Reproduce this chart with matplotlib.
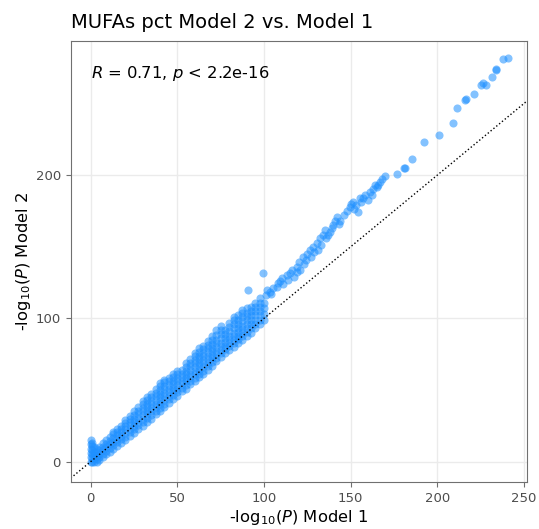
import matplotlib
matplotlib.use("Agg")
import matplotlib.pyplot as plt

# -log10(P) values, split by stretch of the cloud
# dense low end, x 0-35
low_x = [0] * 6 + [1] * 6 + [2] * 5 + [3.5] * 5 + [5] * 5 + [7] * 5 + [9] * 5 \
    + [11] * 5 + [13] * 6 + [15] * 6 + [17.5] * 6 + [20] * 7 + [22.5] * 7 \
    + [25] * 7 + [27.5] * 7 + [30] * 8 + [32.5] * 8
low_y = [0, 3, 6, 9, 12, 15,
         0, 2.5, 5, 8, 11, 13,
         0, 2, 4.5, 7, 10,
         0, 2, 4, 6.5, 9,
         1, 3.5, 5.5, 8, 10.5,
         3, 5.5, 8, 10.5, 13,
         5, 7.5, 10, 12.5, 15,
         7, 9.5, 12, 14.5, 17,
         9, 11.5, 14, 16.5, 19, 21,
         11, 13.5, 16, 18.5, 21, 23,
         13, 15.5, 18, 20.5, 23, 25,
         15, 17.5, 20, 22.5, 25, 27, 29,
         18, 20.5, 23, 25.5, 28, 30, 32,
         20, 22.5, 25, 27.5, 30, 32.5, 35,
         23, 25.5, 28, 30.5, 33, 35.5, 38,
         25, 27.5, 30, 32.5, 35, 37.5, 40, 42,
         28, 30.5, 33, 35.5, 38, 40.5, 43, 45]

# dense middle, x 35-70
mid_x = [35] * 8 + [37.5] * 8 + [40] * 9 + [42.5] * 9 + [45] * 8 + [47.5] * 8 \
    + [50] * 8 + [52.5] * 7 + [55] * 8 + [57.5] * 8 + [60] * 9 + [62.5] * 9 \
    + [65] * 9 + [67.5] * 9
mid_y = [30, 32.5, 35, 37.5, 40, 42.5, 45, 47.5,
         33, 35.5, 38, 40.5, 43, 45.5, 48, 50.5,
         35, 37.5, 40, 42.5, 45, 47.5, 50, 52.5, 55,
         38, 40.5, 43, 45.5, 48, 50.5, 53, 55.5, 57,
         41, 43.5, 46, 48.5, 51, 53.5, 56, 58.5,
         44, 46.5, 49, 51.5, 54, 56.5, 59, 61,
         46, 48.5, 51, 53.5, 56, 58.5, 61, 63,
         49, 51.5, 54, 56.5, 59, 61.5, 64,
         51, 53.5, 56, 58.5, 61, 63.5, 66, 68.5,
         54, 56.5, 59, 61.5, 64, 66.5, 69, 71.5,
         56, 58.5, 61, 63.5, 66, 68.5, 71, 73.5, 76,
         59, 61.5, 64, 66.5, 69, 71.5, 74, 76.5, 79,
         61, 63.5, 66, 68.5, 71, 73.5, 76, 78.5, 81,
         64, 66.5, 69, 71.5, 74, 76.5, 79, 81.5, 84]

# dense upper part, x 70-100
up_x = [70] * 9 + [72.5] * 9 + [75] * 9 + [77.5] * 7 + [80] * 8 + [82.5] * 9 \
    + [85] * 8 + [87.5] * 9 + [90] * 8 + [92.5] * 7 + [95] * 7 + [97.5] * 7 \
    + [100] * 4
up_y = [67, 69.5, 72, 74.5, 77, 79.5, 82, 85, 88,
        70, 72.5, 75, 77.5, 80, 82.5, 85, 88.5, 92,
        73, 75.5, 78, 80.5, 83, 86, 89, 92, 95,
        76, 78.5, 81, 83.5, 86, 89, 92,
        78, 80.5, 83, 85.5, 88, 91, 94, 97,
        80, 82.5, 85, 87.5, 90, 93, 96, 99, 101,
        83, 85.5, 88, 90.5, 93, 96, 99, 102,
        85, 87.5, 90, 92.5, 95, 98, 101, 104, 106,
        88, 90.5, 93, 96, 99, 101.5, 104, 107,
        90, 93, 96, 99, 102, 105, 108,
        93, 96, 99, 102, 105, 108, 111,
        96, 99, 102, 105, 108, 111, 114,
        99, 103, 107, 111]

# broken strand, x 100-170
strand_x = [90.9, 99.6, 101, 102, 103.5, 105, 107.3, 108, 110.2, 111, 113, 115,
            116, 117, 118.9, 120, 121, 122.7, 124, 125, 126.5, 127, 128.5, 130.4,
            131, 132.3, 134, 135.2, 136, 138, 139, 140, 141, 142, 144, 146, 148,
            149.6, 151.5, 152, 153, 154.4, 155.4, 156, 158.3, 160.2, 161.2, 163,
            165, 166, 167, 168,
            104, 109, 114, 119, 123, 129, 133, 137, 143, 150, 157, 162, 164]
strand_y = [119.8, 131.5, 116, 120, 118.6, 121, 122.1, 125, 128, 124, 130, 131.5,
            134, 129, 136.1, 139, 134, 143, 141, 145, 147.7, 143, 150, 152.4,
            148, 155.9, 158, 161.7, 156, 160.5, 163, 165.2, 168, 171, 168, 172, 175,
            178, 181.4, 176, 179, 174.5, 183.8, 181, 186.1, 182.6, 188.4, 190,
            191.9, 193, 195.4, 197,
            117, 126, 127, 132, 138, 146, 151, 158, 166, 180, 184, 186, 193]

# sparse top end, x 170-241
tail_x = [170, 176.6, 181.4, 180.8, 185.2, 192.3, 201.2, 208.9, 211.5, 216,
          216.5, 221.2, 225, 226.5, 228, 231.4, 233.7, 234, 238, 241]
tail_y = [199, 200.8, 204.7, 204.8, 211, 222.9, 228, 236.1, 246.6, 252.4,
          253, 256.4, 263, 264, 262.5, 268.2, 273.3, 274, 281, 282]

x_ticks = [0, 50, 100, 150, 200, 250]
y_ticks = [0, 100, 200]

model1 = low_x + mid_x + up_x + strand_x + tail_x
model2 = low_y + mid_y + up_y + strand_y + tail_y

plt.rcParams['font.family'] = 'DejaVu Sans'
fig = plt.figure(figsize=(5.39, 5.29), dpi=100)
ax = fig.add_axes([0.1312, 0.0883, 0.8466, 0.8346])

ax.scatter(model1, model2, s=34, color='#1E90FF', alpha=0.55, linewidths=0)
ax.axline((0, 0), slope=1, color='black', linestyle=':', linewidth=1.0)

ax.set_xlim(-11.5, 251.7)
ax.set_ylim(-14.4, 293.7)
ax.set_xticks(x_ticks)
ax.set_yticks(y_ticks)
ax.grid(True, color='#EBEBEB', linewidth=1.0)
ax.set_axisbelow(True)
for sp in ax.spines.values():
    sp.set_color('#707070')
    sp.set_linewidth(0.8)
ax.tick_params(colors='#707070', labelcolor='#4D4D4D', labelsize=9.5,
               length=3.5, width=0.8)

ax.set_xlabel(r'-log$_{10}$($P$) Model 1', fontsize=11.8, labelpad=2)
ax.set_ylabel(r'-log$_{10}$($P$) Model 2', fontsize=11.8, labelpad=2)
ax.text(0.0434, 0.925, r'$R$ = 0.71, $p$ < 2.2e-16', transform=ax.transAxes,
        fontsize=11.8, va='center', ha='left')
fig.text(0.1312, 1 - 22 / 529, 'MUFAs pct Model 2 vs. Model 1', fontsize=14,
         va='center', ha='left')

fig.savefig('out.png', dpi=100)
